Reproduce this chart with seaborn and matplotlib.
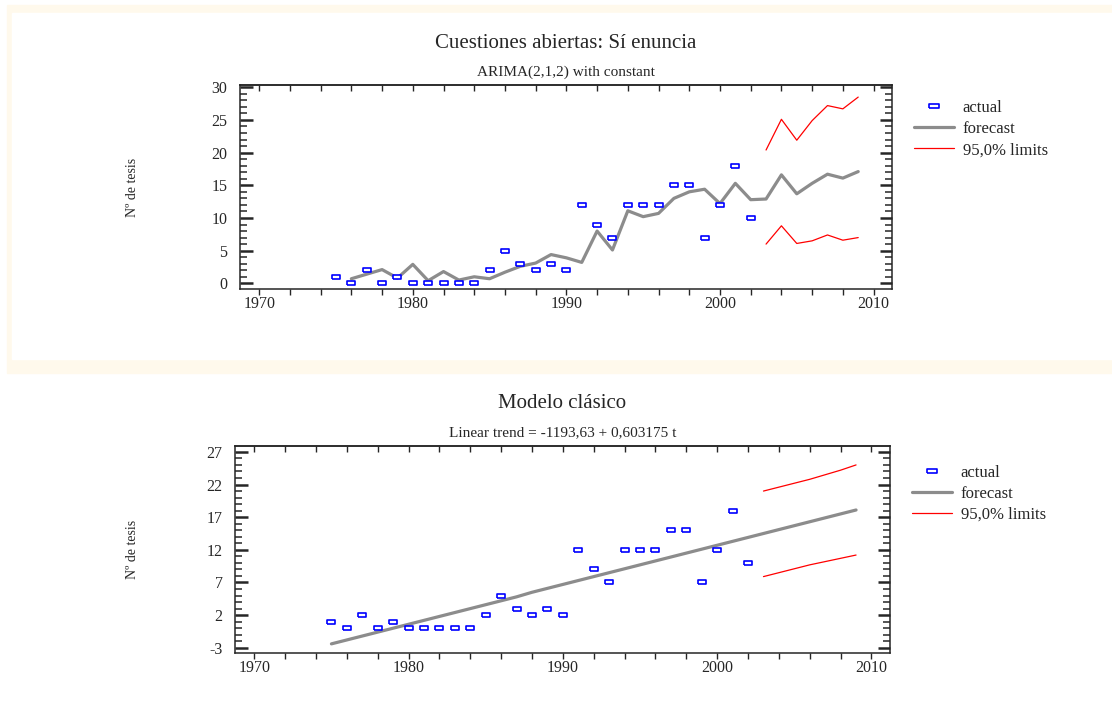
import matplotlib
matplotlib.use('Agg')
import matplotlib.pyplot as plt
from matplotlib.lines import Line2D
from matplotlib.patches import Rectangle
from matplotlib.ticker import MultipleLocator
import seaborn as sns

# Data
years_actual = [1975, 1976, 1977, 1978, 1979, 1980, 1981, 1982, 1983, 1984,
                1985, 1986, 1987, 1988, 1989, 1990, 1991, 1992, 1993, 1994,
                1995, 1996, 1997, 1998, 1999, 2000, 2001, 2002]
actual = [1, 0, 2, 0, 1, 0, 0, 0, 0, 0, 2, 5, 3, 2, 3, 2, 12, 9, 7, 12,
          12, 12, 15, 15, 7, 12, 18, 10]

years_arima = [1976, 1977, 1978, 1979, 1980, 1981, 1982, 1983, 1984, 1985,
               1986, 1987, 1988, 1989, 1990, 1991, 1992, 1993, 1994, 1995,
               1996, 1997, 1998, 1999, 2000, 2001, 2002, 2003, 2004, 2005,
               2006, 2007, 2008, 2009]
arima_forecast = [0.7, 1.4, 2.1, 0.8, 2.9, 0.4, 1.8, 0.5, 1.0, 0.7,
                  1.7, 2.6, 3.1, 4.4, 3.9, 3.2, 8.0, 5.1, 11.1, 10.2,
                  10.7, 13.0, 14.0, 14.4, 12.2, 15.3, 12.8, 12.9, 16.6, 13.7,
                  15.3, 16.7, 16.1, 17.1]

years_limits = [2003, 2004, 2005, 2006, 2007, 2008, 2009]
arima_upper = [20.4, 25.1, 21.9, 24.9, 27.2, 26.7, 28.5]
arima_lower = [6.0, 8.8, 6.1, 6.5, 7.4, 6.6, 7.0]

years_trend = [1975, 1976, 1977, 1978, 1979, 1980, 1981, 1982, 1983, 1984,
               1985, 1986, 1987, 1988, 1989, 1990, 1991, 1992, 1993, 1994,
               1995, 1996, 1997, 1998, 1999, 2000, 2001, 2002, 2003, 2004,
               2005, 2006, 2007, 2008, 2009]
trend_forecast = [-2.4, -1.8, -1.2, -0.6, 0.0, 0.6, 1.2, 1.8, 2.4, 3.0,
                  3.6, 4.2, 4.8, 5.5, 6.1, 6.7, 7.3, 7.9, 8.5, 9.1,
                  9.7, 10.3, 10.9, 11.5, 12.1, 12.7, 13.3, 13.9, 14.5, 15.1,
                  15.7, 16.3, 16.9, 17.5, 18.1]
trend_upper = [21.0, 21.6, 22.2, 22.8, 23.5, 24.2, 25.0]
trend_lower = [7.9, 8.5, 9.1, 9.7, 10.2, 10.7, 11.2]

legend_labels = ['actual', 'forecast', '95,0% limits']

sns.set_style('ticks')
plt.rcParams['font.family'] = ['Liberation Serif', 'DejaVu Serif']
plt.rcParams['axes.linewidth'] = 1.1
plt.rcParams['axes.unicode_minus'] = False

GRAY = '#8c8c8c'
BLUE = '#0000ff'
RED = '#ff0000'
CREAM = '#fff9ec'
rect_marker = [(-1, -0.5), (1, -0.5), (1, 0.5), (-1, 0.5), (-1, -0.5)]

fig = plt.figure(figsize=(11.12, 7.18), dpi=100)

# cream frame around the upper panel
fig.patches.append(Rectangle((7 / 1112, 1 - 373 / 718), 1, (373 - 5) / 718,
                             transform=fig.transFigure, color=CREAM, zorder=-2))
fig.patches.append(Rectangle((12 / 1112, 1 - 359 / 718), 1, (359 - 13) / 718,
                             transform=fig.transFigure, color='white', zorder=-1))

ax1 = fig.add_axes([240 / 1112, 1 - 289 / 718, 652 / 1112, 204 / 718])
ax2 = fig.add_axes([235 / 1112, 1 - 653 / 718, 655 / 1112, 207 / 718])


def draw_panel(ax, yrs_fc, fc, up, lo, ylim, ymajor, title, subtitle, legend_y):
    sns.lineplot(x=yrs_fc, y=fc, ax=ax, color=GRAY, lw=2.3)
    sns.lineplot(x=years_limits, y=up, ax=ax, color=RED, lw=0.9)
    sns.lineplot(x=years_limits, y=lo, ax=ax, color=RED, lw=0.9)
    sns.scatterplot(x=years_actual, y=actual, ax=ax, marker=rect_marker, s=34,
                    facecolor='white', edgecolor=BLUE, linewidth=1.2, zorder=3)

    ax.set_xlim(1968.75, 2011.2)
    ax.set_ylim(*ylim)
    ax.xaxis.set_major_locator(MultipleLocator(10))
    ax.xaxis.set_minor_locator(MultipleLocator(2))
    ax.set_yticks(ymajor)
    ax.yaxis.set_minor_locator(MultipleLocator(1))
    ax.tick_params(axis='y', which='both', direction='in', left=True, right=True,
                   labelsize=11.5, pad=9, width=1.1)
    ax.tick_params(axis='y', which='major', length=9, width=1.8)
    ax.tick_params(axis='y', which='minor', length=5)
    ax.tick_params(axis='x', which='both', direction='out', bottom=True, top=False,
                   labelsize=11.5, pad=1, width=1.0, length=4)
    ax.set_xlabel('')
    ax.set_ylabel('')

    # top ticks point inward
    top = ax.secondary_xaxis('top')
    top.xaxis.set_major_locator(MultipleLocator(10))
    top.xaxis.set_minor_locator(MultipleLocator(2))
    top.tick_params(which='both', direction='in', length=4, width=1.0,
                    labeltop=False)
    top.spines['top'].set_linewidth(1.1)

    ax.text(0.5, 1.205, title, transform=ax.transAxes, ha='center', va='center',
            fontsize=15)
    ax.text(0.5, 1.064, subtitle, transform=ax.transAxes, ha='center', va='center',
            fontsize=11)

    handles = [
        Line2D([], [], ls='none', marker=rect_marker, markersize=6.5,
               markerfacecolor='white', markeredgecolor=BLUE, markeredgewidth=1.2),
        Line2D([], [], color=GRAY, lw=2.3),
        Line2D([], [], color=RED, lw=0.9),
    ]
    ax.legend(handles, legend_labels, loc='upper left', bbox_to_anchor=(1.033, legend_y),
              frameon=False, fontsize=12, borderaxespad=0, borderpad=0,
              handlelength=2.4, handletextpad=0.55, labelspacing=0.3)


draw_panel(ax1, years_arima, arima_forecast, arima_upper, arima_lower,
           (-0.87, 30.35), [0, 5, 10, 15, 20, 25, 30],
           'Cuestiones abiertas: Sí enuncia', 'ARIMA(2,1,2) with constant', 0.925)
draw_panel(ax2, years_trend, trend_forecast, trend_upper, trend_lower,
           (-3.8, 27.9), [-3, 2, 7, 12, 17, 22, 27],
           'Modelo clásico', 'Linear trend = -1193,63 + 0,603175 t', 0.91)

fig.text(132 / 1112, 1 - 187 / 718, 'Nº de tesis', rotation=90, ha='center',
         va='center', fontsize=10)
fig.text(132 / 1112, 1 - 549 / 718, 'Nº de tesis', rotation=90, ha='center',
         va='center', fontsize=10)

fig.savefig('out.png', dpi=100)
